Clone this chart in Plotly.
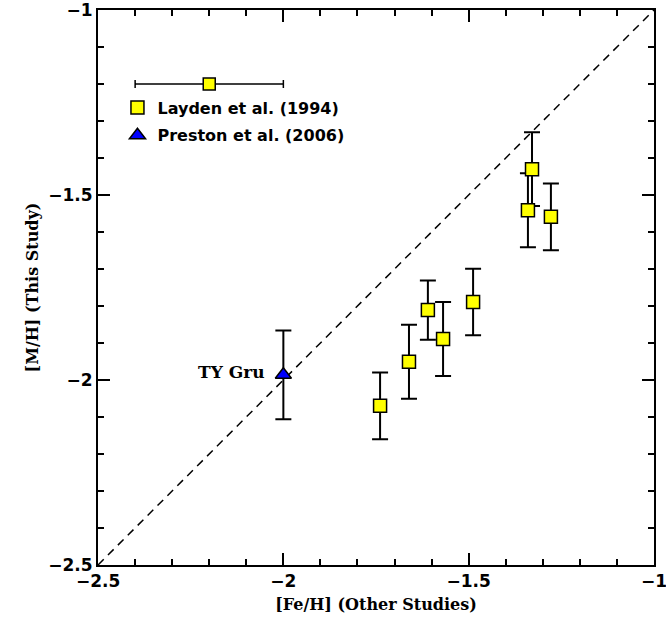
import plotly.graph_objects as go

# Layden et al. (1994)
layden_x = [-1.739, -1.661, -1.610, -1.569, -1.488, -1.340, -1.329, -1.278]
layden_y = [-2.070, -1.951, -1.811, -1.889, -1.789, -1.541, -1.430, -1.559]
layden_err = [0.09, 0.10, 0.08, 0.10, 0.09, 0.10, 0.10, 0.09]

# Preston et al. (2006)
preston_x = [-2.0]
preston_y = [-1.986]
preston_err = [0.12]
preston_label = "TY Gru"

# representative error bar
rep_x = [-2.2]
rep_y = [-1.2]
rep_xerr = [0.2]

# one-to-one line
line_vals = [-2.5, -1.0]

tick_vals = [-2.5, -2, -1.5, -1]
tick_text = ["\u22122.5", "\u22122", "\u22121.5", "\u22121"]

fig = go.Figure()

fig.add_trace(go.Scatter(
    x=line_vals, y=line_vals, mode="lines",
    line=dict(color="black", width=1.5, dash="8px,6px"),
    showlegend=False, hoverinfo="skip"))

fig.add_trace(go.Scatter(
    x=rep_x, y=rep_y, mode="markers",
    marker=dict(symbol="square", size=12, color="#ffff00", line=dict(color="black", width=1.5)),
    error_x=dict(type="data", array=rep_xerr, color="black", thickness=1.5, width=4),
    showlegend=False))

fig.add_trace(go.Scatter(
    x=layden_x, y=layden_y, mode="markers", name="Layden et al. (1994)", legendgroup="a",
    marker=dict(symbol="square", size=13, color="#ffff00", line=dict(color="black", width=1.5)),
    error_y=dict(type="data", array=layden_err, color="black", thickness=2, width=8)))

fig.add_trace(go.Scatter(
    x=preston_x, y=preston_y, mode="markers", name="Preston et al. (2006)", legendgroup="b",
    marker=dict(symbol="triangle-up", size=14, color="#0000ff", line=dict(color="black", width=1.5)),
    error_y=dict(type="data", array=preston_err, color="black", thickness=2, width=8)))

fig.add_annotation(x=preston_x[0], y=preston_y[0], text="<b>" + preston_label + "</b>", showarrow=False,
                   xanchor="right", xshift=-16, yshift=3,
                   font=dict(family="DejaVu Serif", size=17, color="black"))

axis_common = dict(
    showline=True, linecolor="black", linewidth=2, mirror="allticks",
    ticks="inside", ticklen=12, tickwidth=1.5, tickcolor="black",
    showgrid=False, zeroline=False, automargin=False, ticklabeloverflow="allow",
    minor=dict(ticks="inside", ticklen=6, tickwidth=1.5, tickcolor="black", dtick=0.1, tick0=-2.5, showgrid=False),
    tickfont=dict(family="DejaVu Sans", size=17, color="black", weight="bold"),
    tickvals=tick_vals, ticktext=tick_text,
)

fig.update_xaxes(range=[-2.5002, -0.9998],
                 title=dict(text="<b>[Fe/H] (Other Studies)</b>", font=dict(family="DejaVu Serif", size=16, color="black"), standoff=8),
                 **axis_common)
fig.update_yaxes(range=[-2.5002, -0.9998],
                 title=dict(text="<b>[M/H] (This Study)</b>", font=dict(family="DejaVu Serif", size=16, color="black"), standoff=6),
                 **axis_common)

fig.update_layout(
    width=666, height=622,
    margin=dict(l=98, r=12, t=10, b=57),
    plot_bgcolor="white", paper_bgcolor="white",
    legend=dict(x=0.035, y=0.855, xanchor="left", yanchor="top",
                font=dict(family="DejaVu Sans", size=16, color="black", weight="bold"),
                bgcolor="rgba(0,0,0,0)", tracegroupgap=4, itemwidth=30),
)

fig.write_html("out.html")
